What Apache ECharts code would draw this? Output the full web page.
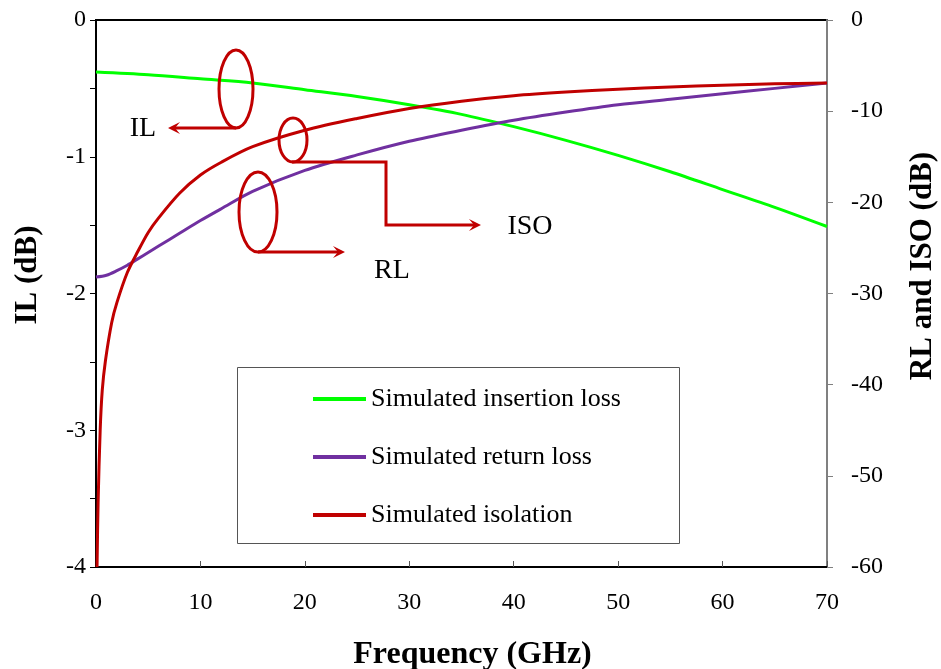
<!DOCTYPE html>
<html>
<head>
<meta charset="utf-8">
<script src="https://cdn.jsdelivr.net/npm/echarts@6/dist/echarts.min.js"></script>
<style>
  html, body { margin: 0; padding: 0; background: #fff; }
  #main { width: 941px; height: 669px; }
</style>
</head>
<body>
<div id="main"></div>
<script>
// 数据 -------------------------------------------
var seriesNames = ['Simulated insertion loss', 'Simulated return loss', 'Simulated isolation'];

// insertion loss (left axis, dB)
var ilFreq = [0, 5, 10, 15, 20, 25, 30, 35, 40, 45, 50, 55, 60, 65, 70];
var ilVal = [-0.38, -0.40, -0.43, -0.46, -0.51, -0.56, -0.62, -0.69, -0.78, -0.88, -0.99, -1.11, -1.24, -1.37, -1.51];

// return loss (right axis, dB)
var rlFreq = [0, 1, 2, 3, 4, 5, 6, 8, 10, 12, 15, 20, 25, 30, 35, 40, 45, 50, 55, 60, 65, 70];
var rlVal = [-28.2, -28.0, -27.5, -26.9, -26.2, -25.5, -24.8, -23.4, -22.0, -20.7, -18.8, -16.5, -14.8, -13.3, -12.1, -11.0, -10.1, -9.3, -8.7, -8.1, -7.5, -6.9];

// isolation (right axis, dB)
var isoFreq = [0.1, 0.2, 0.4, 0.6, 0.9, 1.5, 2, 3, 4, 5, 6, 8, 10, 12, 15, 20, 25, 30, 35, 40, 45, 50, 55, 60, 65, 70];
var isoVal = [-60, -53, -45, -40.6, -37.4, -33.2, -31, -27.7, -25.4, -23.3, -21.7, -19, -17, -15.6, -13.9, -12.1, -10.8, -9.7, -8.9, -8.3, -7.9, -7.6, -7.35, -7.15, -7.0, -6.9];

var colors = ['#00ff00', '#7030a0', '#c00000'];
var font = '"Liberation Serif", "Times New Roman", serif';
var annoRed = '#c00000';

var pairs = function(xs, ys) {
	var out = [];
	for (var i = 0; i < xs.length; i++) {
		out.push([xs[i], ys[i]]);
	}
	return out;
};

var lineSeries = function(name, data, yIdx, color) {
	return {
		name: name,
		type: 'line',
		yAxisIndex: yIdx,
		data: data,
		smooth: 0.3,
		showSymbol: false,
		lineStyle: { color: color, width: 3 },
		itemStyle: { color: color },
		z: 3
	};
};

// 注释图形 (ellipse + arrow)
var arrowHead = function(x, y, dir) {
	// dir: 1 = right, -1 = left
	return {
		type: 'polygon',
		shape: { points: [[x, y], [x - dir * 12, y - 6], [x - dir * 7, y], [x - dir * 12, y + 6]] },
		style: { fill: annoRed },
		z: 10
	};
};
var ellipse = function(cx, cy, rx, ry) {
	return {
		type: 'ellipse',
		shape: { cx: cx, cy: cy, rx: rx, ry: ry },
		style: { fill: null, stroke: annoRed, lineWidth: 3 },
		z: 10
	};
};
var polyline = function(pts) {
	return {
		type: 'polyline',
		shape: { points: pts },
		style: { stroke: annoRed, lineWidth: 3, fill: null },
		z: 10
	};
};
var label = function(x, y, text) {
	return {
		type: 'text',
		x: x, y: y,
		style: { text: text, font: '28px ' + font, fill: '#000', align: 'center', verticalAlign: 'middle' },
		z: 10
	};
};

var option = {
	backgroundColor: '#fff',
	animation: false,
	grid: {
		left: 96, right: 114, top: 20, bottom: 102,
		outerBoundsMode: 'none',
		show: true, borderColor: '#000', borderWidth: 2, backgroundColor: 'transparent'
	},
	legend: {
		orient: 'vertical',
		left: 308, top: 381,
		itemWidth: 53, itemHeight: 4,
		itemGap: 32,
		icon: 'rect',
		textStyle: { fontFamily: font, fontSize: 26, lineHeight: 26, color: '#000' },
		data: seriesNames
	},
	xAxis: {
		type: 'value',
		min: 0, max: 70, interval: 10,
		name: 'Frequency (GHz)',
		nameLocation: 'middle',
		nameGap: 72,
		nameTextStyle: { fontFamily: font, fontSize: 32, fontWeight: 'bold', color: '#000', padding: [0, 0, 0, 22] },
		axisLine: { onZero: false, lineStyle: { color: '#000', width: 2 } },
		axisTick: { inside: true, length: 6, lineStyle: { color: '#555', width: 1 } },
		axisLabel: { fontFamily: font, fontSize: 24, color: '#000', margin: 24 },
		splitLine: { show: false }
	},
	yAxis: [
		{
			type: 'value',
			min: -4, max: 0, interval: 1,
			position: 'left',
			axisLine: { show: true, onZero: false, lineStyle: { color: '#000', width: 2 } },
			axisTick: { show: true, length: 6, lineStyle: { color: '#000', width: 1 } },
			minorTick: { show: true, splitNumber: 2, length: 6, lineStyle: { color: '#000', width: 1 } },
			axisLabel: { fontFamily: font, fontSize: 24, color: '#000', margin: 10 },
			splitLine: { show: false }
		},
		{
			type: 'value',
			min: -60, max: 0, interval: 10,
			position: 'right',
			axisLine: { show: true, onZero: false, lineStyle: { color: '#808080', width: 2 } },
			axisTick: { show: true, length: 6, lineStyle: { color: '#808080', width: 1 } },
			axisLabel: { fontFamily: font, fontSize: 24, color: '#000', margin: 24 },
			splitLine: { show: false }
		}
	],
	series: [
		lineSeries(seriesNames[0], pairs(ilFreq, ilVal), 0, colors[0]),
		lineSeries(seriesNames[1], pairs(rlFreq, rlVal), 1, colors[1]),
		lineSeries(seriesNames[2], pairs(isoFreq, isoVal), 1, colors[2])
	],
	graphic: [
		// legend box
		{
			type: 'rect',
			shape: { x: 237.5, y: 367.5, width: 442, height: 176 },
			style: { fill: null, stroke: '#555', lineWidth: 1 },
			z: 1
		},
		// axis names
		{
			type: 'text', x: 28, y: 275, rotation: Math.PI / 2,
			style: { text: 'IL (dB)', font: 'bold 31px ' + font, fill: '#000', align: 'center', verticalAlign: 'middle' }
		},
		{
			type: 'text', x: 923, y: 266, rotation: Math.PI / 2,
			style: { text: 'RL and ISO (dB)', font: 'bold 31px ' + font, fill: '#000', align: 'center', verticalAlign: 'middle' }
		},
		// IL
		ellipse(236, 89, 17, 39),
		polyline([[236, 128], [172, 128]]),
		arrowHead(168, 128, -1),
		label(143, 129, 'IL'),
		// ISO
		ellipse(293, 140, 14, 22),
		polyline([[292, 162], [386, 162], [386, 225], [476, 225]]),
		arrowHead(481, 225, 1),
		label(530, 227, 'ISO'),
		// RL
		ellipse(258, 212, 19, 40),
		polyline([[258, 252], [340, 252]]),
		arrowHead(345, 252, 1),
		label(392, 271, 'RL')
	]
};

var myChart = echarts.init(document.getElementById('main'));
myChart.setOption(option);
</script>
</body>
</html>
